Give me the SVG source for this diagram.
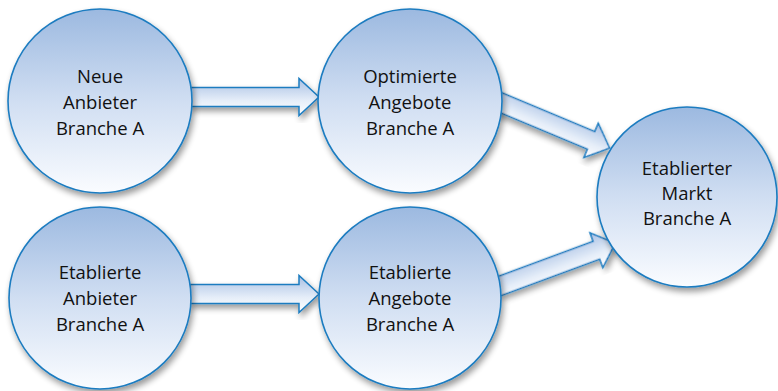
<svg xmlns="http://www.w3.org/2000/svg" width="778" height="391" viewBox="0 0 778 391">
  <defs>
    <linearGradient id="ballFill" x1="0" y1="0" x2="0" y2="1">
      <stop offset="0" stop-color="#9cb9e0"/>
      <stop offset="0.5" stop-color="#d0def2"/>
      <stop offset="1" stop-color="#fafcff"/>
    </linearGradient>
    <linearGradient id="arrowFill" x1="0" y1="0" x2="0" y2="1">
      <stop offset="0" stop-color="#a7bfe3"/>
      <stop offset="0.6" stop-color="#e6eef9"/>
      <stop offset="1" stop-color="#ffffff"/>
    </linearGradient>
    <filter id="shadow" x="-20%" y="-20%" width="140%" height="140%">
      <feGaussianBlur in="SourceAlpha" stdDeviation="3"/>
      <feOffset dx="2" dy="4" result="b"/>
      <feComponentTransfer><feFuncA type="linear" slope="0.4"/></feComponentTransfer>
      <feMerge><feMergeNode/><feMergeNode in="SourceGraphic"/></feMerge>
    </filter>
  </defs>
  <style>
    .ball { fill: url(#ballFill); stroke: #1c7cc0; stroke-width: 1.6; filter: url(#shadow); }
    .arrow { fill: url(#arrowFill); stroke: #1c7cc0; stroke-width: 1.5; stroke-linejoin: miter; filter: url(#shadow); }
    .label { font-family: "Open Sans", "Noto Sans", sans-serif; font-size: 18.5px; fill: #111; text-anchor: middle; }
  </style>
  <rect width="778" height="391" fill="#ffffff"/>

  <g id="connectors">
    <!-- Neue Anbieter -> Optimierte Angebote -->
    <path class="arrow" transform="translate(190,97)" d="M0,-9.5 H109 V-18.5 L129,0 L109,18.5 V9.5 H0 Z"/>
    <!-- Etablierte Anbieter -> Etablierte Angebote -->
    <path class="arrow" transform="translate(190,294)" d="M0,-9.5 H109 V-18.5 L129,0 L109,18.5 V9.5 H0 Z"/>
    <!-- Optimierte Angebote -> Etablierter Markt -->
    <path class="arrow" transform="translate(497,101) rotate(22.7)" d="M0,-9.5 H102 V-18.5 L122,0 L102,18.5 V9.5 H0 Z"/>
    <!-- Etablierte Angebote -> Etablierter Markt -->
    <path class="arrow" transform="translate(497,287) rotate(-20.3)" d="M0,-9.5 H106 V-18.5 L126,0 L106,18.5 V9.5 H0 Z"/>
  </g>

  <g id="neue-anbieter">
    <circle class="ball" cx="100" cy="101" r="92"/>
    <text class="label" x="100" y="83">Neue</text>
    <text class="label" x="100" y="109">Anbieter</text>
    <text class="label" x="100" y="135">Branche A</text>
  </g>

  <g id="optimierte-angebote">
    <circle class="ball" cx="410" cy="101" r="92"/>
    <text class="label" x="410" y="83">Optimierte</text>
    <text class="label" x="410" y="109">Angebote</text>
    <text class="label" x="410" y="135">Branche A</text>
  </g>

  <g id="etablierte-anbieter">
    <circle class="ball" cx="100" cy="298" r="91"/>
    <text class="label" x="100" y="279">Etablierte</text>
    <text class="label" x="100" y="305">Anbieter</text>
    <text class="label" x="100" y="331">Branche A</text>
  </g>

  <g id="etablierte-angebote">
    <circle class="ball" cx="410" cy="298" r="91"/>
    <text class="label" x="410" y="279">Etablierte</text>
    <text class="label" x="410" y="305">Angebote</text>
    <text class="label" x="410" y="331">Branche A</text>
  </g>

  <g id="etablierter-markt">
    <circle class="ball" cx="687" cy="197" r="90"/>
    <text class="label" x="687" y="175">Etablierter</text>
    <text class="label" x="687" y="200">Markt</text>
    <text class="label" x="687" y="225">Branche A</text>
  </g>
</svg>
